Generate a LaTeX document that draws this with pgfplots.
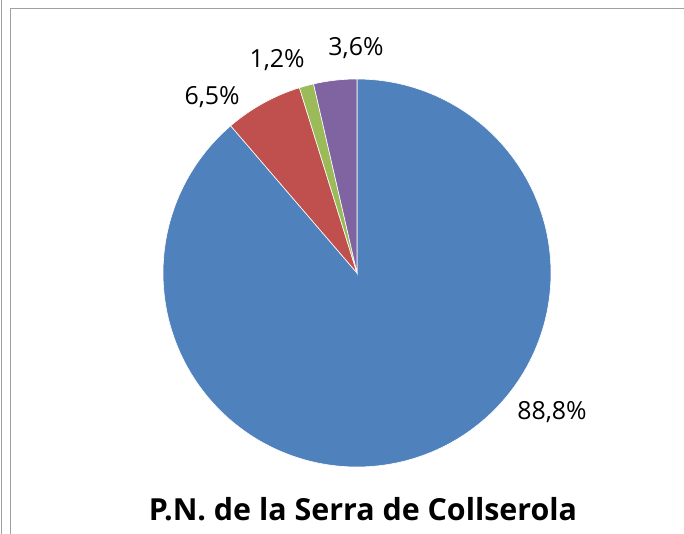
\documentclass[border=0pt]{standalone}
\usepackage{pgfplots}
\pgfplotsset{compat=1.18}
\usepackage{fontspec}
\setmainfont{Open Sans}
\definecolor{c1}{HTML}{4F81BD}
\definecolor{c2}{HTML}{C0504D}
\definecolor{c3}{HTML}{9BBB59}
\definecolor{c4}{HTML}{8064A2}
\definecolor{frame}{HTML}{A0A0A0}
% slice values (percent)
\def\va{88.8}
\def\vb{6.5}
\def\vc{1.2}
\def\vd{3.6}
\begin{document}
\begin{tikzpicture}
\path[use as bounding box] (0bp,0bp) rectangle (684bp,534bp);
\draw[frame, line width=1.5bp] (1.5bp,0bp) -- (1.5bp,534bp);
\draw[frame, line width=1.5bp] (10.5bp,0bp) -- (10.5bp,525.5bp) -- (684bp,525.5bp);
\pgfmathsetmacro\tot{\va+\vb+\vc+\vd}
\pgfmathsetmacro\aA{90}
\pgfmathsetmacro\aB{\aA-\va/\tot*360}
\pgfmathsetmacro\aC{\aB-\vb/\tot*360}
\pgfmathsetmacro\aD{\aC-\vc/\tot*360}
\pgfmathsetmacro\aE{\aD-\vd/\tot*360}
\begin{axis}[at={(163bp,67bp)}, anchor=south west, scale only axis,
  width=388bp, height=388bp,
  xmin=-1, xmax=1, ymin=-1, ymax=1, hide axis, clip=false]
\addplot[fill=c1, draw=white, line width=0.6bp, domain=\aB:\aA, samples=200, variable=\t]
  ({cos(\t)},{sin(\t)}) -- (axis cs:0,0) -- cycle;
\addplot[fill=c2, draw=white, line width=0.6bp, domain=\aC:\aB, samples=30, variable=\t]
  ({cos(\t)},{sin(\t)}) -- (axis cs:0,0) -- cycle;
\addplot[fill=c3, draw=white, line width=0.6bp, domain=\aD:\aC, samples=10, variable=\t]
  ({cos(\t)},{sin(\t)}) -- (axis cs:0,0) -- cycle;
\addplot[fill=c4, draw=white, line width=0.6bp, domain=\aE:\aD, samples=20, variable=\t]
  ({cos(\t)},{sin(\t)}) -- (axis cs:0,0) -- cycle;
\node[font=\fontsize{25}{28}\selectfont] at (axis cs:1.005,-0.716) {88,8\%};
\node[font=\fontsize{25}{28}\selectfont] at (axis cs:-0.747,0.907) {6,5\%};
\node[font=\fontsize{25}{28}\selectfont] at (axis cs:-0.412,1.098) {1,2\%};
\node[font=\fontsize{25}{28}\selectfont] at (axis cs:-0.005,1.160) {3,6\%};
\end{axis}
\node[font=\bfseries\fontsize{30.5}{34}\selectfont] at (363bp,25bp) {P.N. de la Serra de Collserola};
\end{tikzpicture}
\end{document}
